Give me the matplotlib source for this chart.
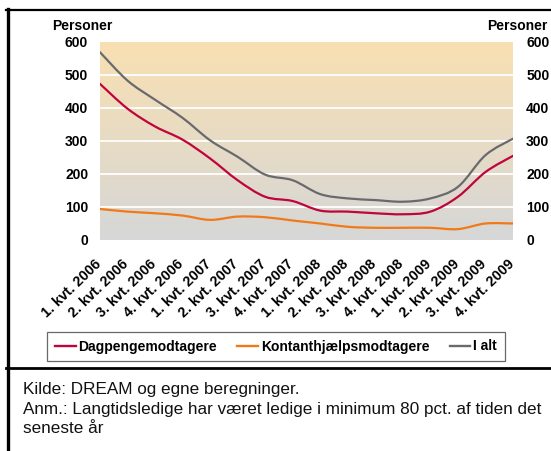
import matplotlib
matplotlib.use("Agg")
import matplotlib.pyplot as plt
import numpy as np
from matplotlib.path import Path
from matplotlib.patches import PathPatch
from matplotlib.lines import Line2D
import matplotlib.transforms as mtransforms

plt.rcParams['font.family'] = ['Liberation Sans', 'DejaVu Sans']

categories = ["1. kvt. 2006", "2. kvt. 2006", "3. kvt. 2006", "4. kvt. 2006",
              "1. kvt. 2007", "2. kvt. 2007", "3. kvt. 2007", "4. kvt. 2007",
              "1. kvt. 2008", "2. kvt. 2008", "3. kvt. 2008", "4. kvt. 2008",
              "1. kvt. 2009", "2. kvt. 2009", "3. kvt. 2009", "4. kvt. 2009"]
dagpenge = [473, 398, 344, 304, 247, 181, 131, 118, 89, 86, 81, 78, 86, 131, 206, 255]
kontant = [94, 86, 81, 74, 61, 71, 69, 59, 50, 40, 37, 37, 37, 33, 50, 50]
i_alt = [569, 483, 425, 370, 302, 252, 198, 181, 139, 126, 121, 116, 126, 161, 257, 307]
series_names = ["Dagpengemodtagere", "Kontanthjælpsmodtagere", "I alt"]
series_colors = ["#C0043C", "#F07A1A", "#6A6A6E"]
y_ticks = [0, 100, 200, 300, 400, 500, 600]

W, H = 551, 451
fig = plt.figure(figsize=(W / 100, H / 100), dpi=100)
fig.patch.set_facecolor("white")

ax = fig.add_axes([100 / W, 1 - 240 / H, 413 / W, 198 / H])
n = len(categories)
x = np.arange(n)
ax.set_xlim(0, n - 1)
ax.set_ylim(0, 600)

# gradient background
top = np.array([249, 224, 178]) / 255
bot = np.array([214, 215, 215]) / 255
t = np.linspace(1, 0, 256)[:, None]
grad = (t * top + (1 - t) * bot)[:, None, :]
ax.imshow(grad, extent=[0, n - 1, 0, 600], aspect='auto', zorder=0, interpolation='bilinear')

for yv in y_ticks[1:-1]:
    ax.axhline(yv, color='white', lw=1.3, zorder=1)


def smooth_path(xs, ys):
    pts = np.column_stack([xs, ys]).astype(float)
    verts = [pts[0]]
    codes = [Path.MOVETO]
    m = len(pts)
    for i in range(m - 1):
        p0 = pts[i - 1] if i > 0 else pts[i]
        p1 = pts[i]
        p2 = pts[i + 1]
        p3 = pts[i + 2] if i + 2 < m else pts[i + 1]
        c1 = p1 + (p2 - p0) / 6.0
        c2 = p2 - (p3 - p1) / 6.0
        verts += [c1, c2, p2]
        codes += [Path.CURVE4] * 3
    return Path(verts, codes)


handles = []
for vals, name, col in zip([dagpenge, kontant, i_alt], series_names, series_colors):
    patch = PathPatch(smooth_path(x, vals), fill=False, edgecolor=col, lw=1.6,
                      zorder=3, capstyle='round', joinstyle='round')
    ax.add_patch(patch)
    handles.append(Line2D([], [], color=col, lw=1.7))

for s in ax.spines.values():
    s.set_visible(False)

ax.set_yticks(y_ticks)
ax.set_yticklabels([str(v) for v in y_ticks], fontsize=10, fontweight='bold')
ax.tick_params(axis='y', length=0, pad=8.5)
ax.set_xticks(x)
ax.set_xticklabels(categories, fontsize=10.3, fontweight='bold', rotation=44,
                   ha='right', va='top', rotation_mode='anchor')
ax.tick_params(axis='x', length=0, pad=0)
offset = mtransforms.ScaledTranslation(-6 / 100, -17 / 100, fig.dpi_scale_trans)
for lab in ax.get_xticklabels():
    lab.set_transform(lab.get_transform() + offset)

ax2 = ax.twinx()
ax2.set_ylim(0, 600)
ax2.set_yticks(y_ticks)
ax2.set_yticklabels([str(v) for v in y_ticks], fontsize=10, fontweight='bold')
ax2.tick_params(axis='y', length=0, pad=9.5)
for s in ax2.spines.values():
    s.set_visible(False)

fig.text(52 / W, 1 - 30 / H, "Personer", fontsize=10, fontweight='bold', ha='left', va='baseline')
fig.text(548 / W, 1 - 30 / H, "Personer", fontsize=10, fontweight='bold', ha='right', va='baseline')

leg = fig.legend(handles, series_names, loc='center', bbox_to_anchor=(276 / W, 1 - 346.5 / H),
                 ncol=3, frameon=True, fancybox=False, edgecolor='#444444',
                 prop={'weight': 'bold', 'size': 10}, handlelength=1.5, handletextpad=0.2,
                 columnspacing=1.45, borderpad=0.55, borderaxespad=0)
leg.get_frame().set_linewidth(0.9)

# frame lines
fig.add_artist(Line2D([6 / W, 1], [1 - 10 / H, 1 - 10 / H], color='black', lw=1.6, transform=fig.transFigure))
fig.add_artist(Line2D([7.5 / W, 7.5 / W], [0, 1 - 9 / H], color='black', lw=2.4, transform=fig.transFigure))
fig.add_artist(Line2D([6 / W, 1], [1 - 367.5 / H, 1 - 367.5 / H], color='black', lw=2.0, transform=fig.transFigure))

notes = ["Kilde: DREAM og egne beregninger.",
         "Anm.: Langtidsledige har været ledige i minimum 80 pct. af tiden det",
         "seneste år"]
for txt, yb in zip(notes, [394, 413.7, 433]):
    fig.text(22.7 / W, 1 - yb / H, txt, fontsize=12.3, ha='left', va='baseline', color='#111111')

fig.savefig("out.png", dpi=100)
